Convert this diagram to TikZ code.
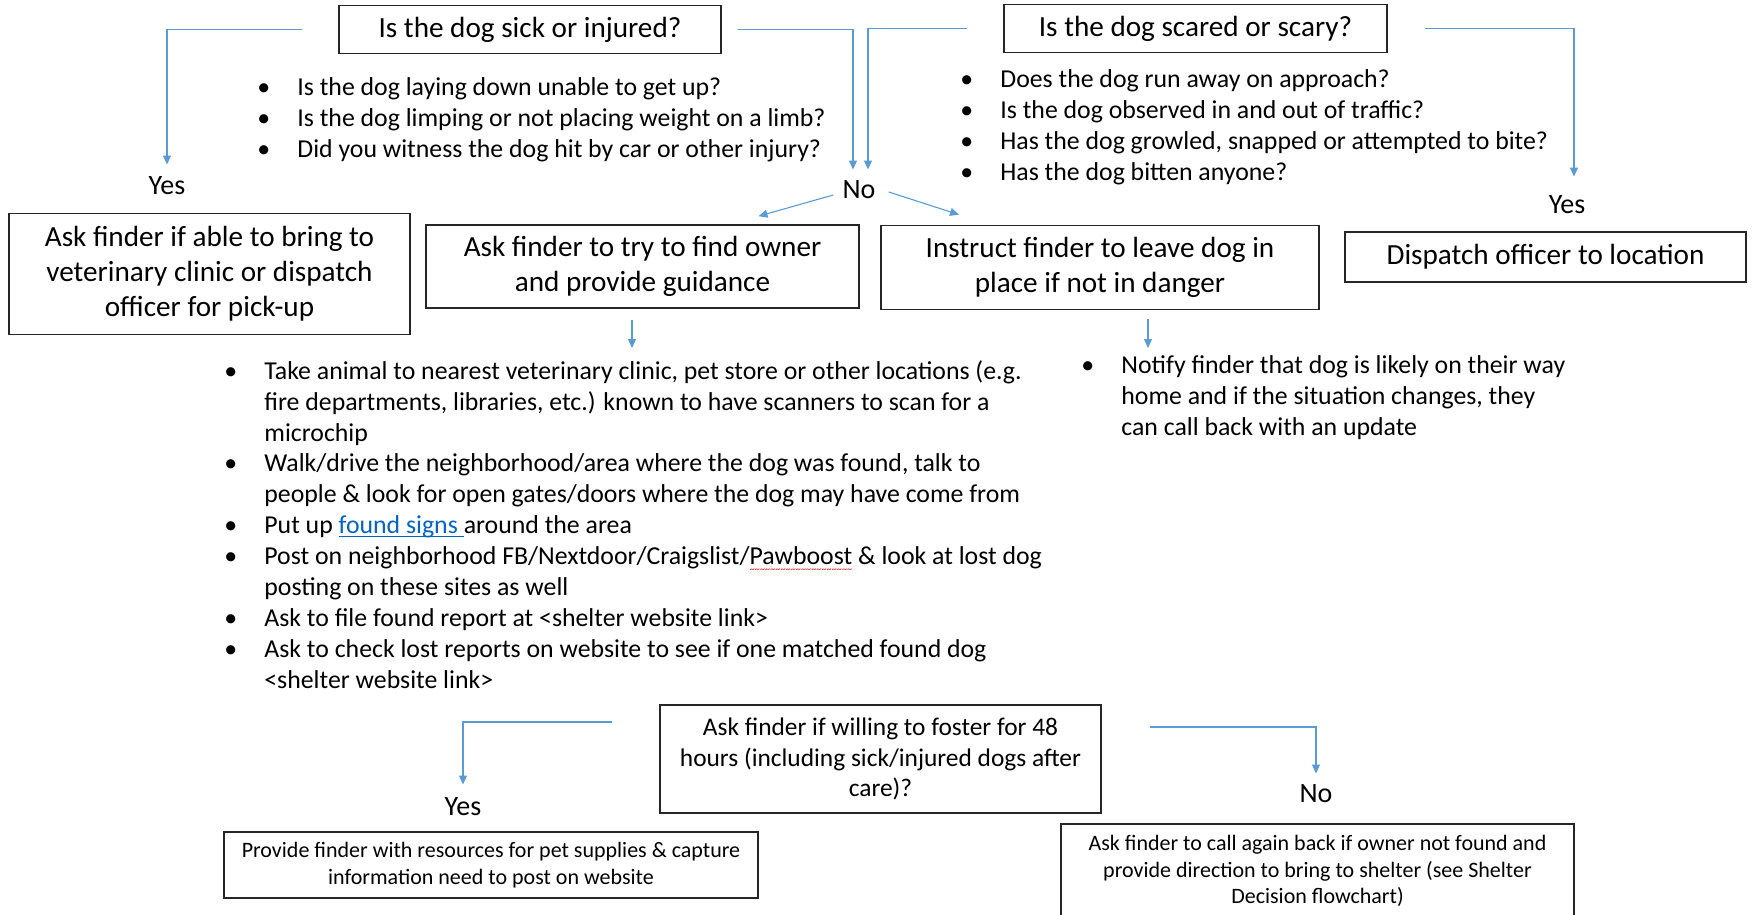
\documentclass[tikz,border=0pt]{standalone}
\usepackage{fontspec}
\setmainfont{Carlito}
\usetikzlibrary{arrows.meta,positioning}
\definecolor{flowblue}{HTML}{5B9BD5}
\definecolor{linkblue}{HTML}{0563C1}
\newcommand\linkul[1]{\textcolor{linkblue}{\setbox0\hbox{#1}\rlap{\rule[-1.6pt]{\wd0}{0.55pt}}\box0\relax}}
\newcommand\spellwave[1]{\setbox0\hbox{#1}\rlap{\raisebox{-3.8pt}{\textcolor{red}{\hbox to \wd0{\xleaders\hbox{\fontsize{5}{5}\selectfont\char"7E}\hfill}}}}\box0\relax}
\newcommand\bul{\makebox[20pt][l]{\textbullet}}
\newcommand\ind{\hspace*{20pt}}

\begin{document}
\begin{tikzpicture}[x=0.5pt,y=-0.5pt,
  box/.style={draw=black!85,line width=0.8pt,inner sep=0pt,align=center,
    font=\fontsize{14.6}{17.5}\selectfont},
  smallbox/.style={box,font=\fontsize{11}{13.4}\selectfont},
  bullets/.style={anchor=north west,inner sep=0pt,align=left,
    font=\fontsize{12.9}{15.45}\selectfont},
  answer/.style={inner sep=2pt,font=\fontsize{14}{17}\selectfont},
  arr/.style={draw=flowblue,line width=0.55pt,-{Triangle[width=4pt,length=4.5pt]}}]
  \useasboundingbox (0,0) rectangle (1753,915);
  \clip (0,0) rectangle (1753,915);

  % the two first questions
  \node[box,minimum width=191pt,minimum height=24pt] (sick) at (530,29.6)
    {Is the dog sick or injured?};
  \node[box,minimum width=191.5pt,minimum height=24pt] (scared) at (1195.5,28.5)
    {Is the dog scared or scary?};
  \node[bullets] (sickq) at (257,77)
    {\bul Is the dog laying down unable to get up?\\
     \bul Is the dog limping or not placing weight on a limb?\\
     \bul Did you witness the dog hit by car or other injury?};
  \node[bullets] (scaredq) at (960,69)
    {\bul Does the dog run away on approach?\\
     \bul Is the dog observed in and out of traffic?\\
     \bul Has the dog growled, snapped or attempted to bite?\\
     \bul Has the dog bitten anyone?};

  % answers
  \node[answer] (yesA) at (167,186) {Yes};
  \node[answer] (noA) at (859,190) {No};
  \node[answer] (yesB) at (1567,205) {Yes};

  % actions
  \node[box,minimum width=200.5pt,minimum height=60.5pt] (vet) at (209.5,274)
    {Ask finder if able to bring to\\veterinary clinic or dispatch\\officer for pick-up};
  \node[box,minimum width=216.5pt,minimum height=41.5pt] (owner) at (642.5,266.5)
    {Ask finder to try to find owner\\and provide guidance};
  \node[box,minimum width=219pt,minimum height=42pt] (instruct) at (1100,267.5)
    {Instruct finder to leave dog in\\place if not in danger};
  \node[box,minimum width=200.5pt,minimum height=25pt] (dispatch) at (1545.5,257)
    {Dispatch officer to location};

  % guidance
  \node[bullets] (guide) at (224,360)
    {\bul Take animal to nearest veterinary clinic, pet store or other locations (e.g.\\
     \ind fire departments, libraries, etc.) known to have scanners to scan for a\\
     \ind microchip\\
     \bul Walk/drive the neighborhood/area where the dog was found, talk to\\
     \ind people \& look for open gates/doors where the dog may have come from\\
     \bul Put up \linkul{found signs\ }around the area\\
     \bul Post on neighborhood FB/Nextdoor/Craigslist/\spellwave{Pawboost} \& look at lost dog\\
     \ind posting on these sites as well\\
     \bul Ask to file found report at <shelter website link>\\
     \bul Ask to check lost reports on website to see if one matched found dog\\
     \ind <shelter website link>};
  \node[bullets] (notify) at (1081,355)
    {\bul Notify finder that dog is likely on their way\\
     \ind home and if the situation changes, they\\
     \ind can call back with an update};

  % foster
  \node[box,minimum width=220.5pt,minimum height=54pt,
    font=\fontsize{12.7}{15.4}\selectfont] (foster) at (880.5,759)
    {Ask finder if willing to foster for 48\\hours (including sick/injured dogs after\\care)?};
  \node[answer] (yesC) at (463,807) {Yes};
  \node[answer] (noC) at (1316,794) {No};
  \node[smallbox,minimum width=267pt,minimum height=33pt] (supplies) at (491,865)
    {Provide finder with resources for pet supplies \& capture\\information need to post on website};
  \node[smallbox,minimum width=256.5pt,minimum height=47pt] (callback) at (1317.5,871)
    {Ask finder to call again back if owner not found and\\provide direction to bring to shelter (see Shelter\\Decision flowchart)};

  % connectors
  \draw[arr,shorten >=4pt] ([xshift=-18pt]sick.west) -| (yesA);
  \draw[arr,shorten >=3.5pt] ([xshift=8pt]sick.east) -| ([xshift=-3pt]noA.north);
  \draw[arr,shorten >=3.5pt] ([xshift=-18pt]scared.west) -| ([xshift=4.5pt]noA.north);
  \draw[arr,shorten >=7.5pt] ([xshift=18.5pt]scared.east) -| ([xshift=3.5pt]yesB.north);
  \draw[arr] ([xshift=-2.5pt,yshift=-2.5pt]noA.west) -- ([xshift=58pt,yshift=4pt]owner.north);
  \draw[arr] ([xshift=4.5pt,yshift=-1pt]noA.east) -- ([xshift=-70.5pt,yshift=5pt]instruct.north);
  \coordinate (ownOut) at ([xshift=-5.25pt,yshift=-5.5pt]owner.south);
  \coordinate (insOut) at ([xshift=24pt,yshift=-4.5pt]instruct.south);
  \draw[arr,shorten >=6pt] (ownOut) -- (ownOut |- guide.north);
  \draw[arr,shorten >=3.5pt] (insOut) -- (insOut |- notify.north);
  \draw[arr,shorten >=4.5pt] ([xshift=-23.5pt,yshift=18.5pt]foster.west) -| (yesC);
  \draw[arr,shorten >=3.5pt] ([xshift=24pt,yshift=16pt]foster.east) -| (noC);
\end{tikzpicture}
\end{document}
